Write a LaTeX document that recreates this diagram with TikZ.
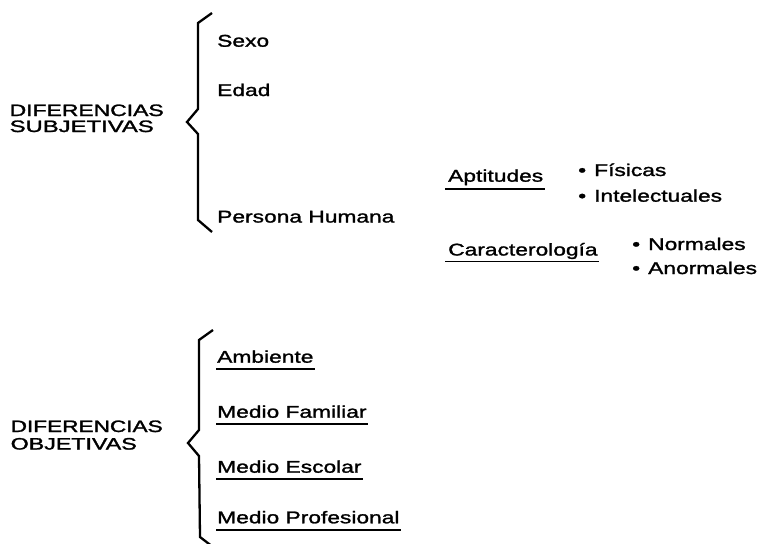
\documentclass[tikz,border=0pt]{standalone}
\usepackage{fontspec}
\usepackage{graphicx}
\setmainfont[FakeStretch=1.34,FakeBold=1.5]{Liberation Sans}
\newfontfamily\headfont[FakeBold=1.5]{Liberation Sans}
\newcommand{\hd}[2]{\resizebox{#1pt}{\height}{#2}}
\begin{document}
\begin{tikzpicture}[x=1pt,y=-1pt,
  item/.style={anchor=base west,inner sep=0pt,font=\fontsize{17}{20}\selectfont},
  head/.style={anchor=base west,inner sep=0pt,font=\headfont\fontsize{16.5}{16}\selectfont},
  ul/.style={line width=1.9pt},
  brace/.style={line width=2.3pt,line join=miter}]
\useasboundingbox (0,0) rectangle (759,543);
% subjective block
\node[head] (d1) at (9.5,116) {\hd{154}{DIFERENCIAS}};
\node[head] (s1) at (9.5,132) {\hd{144}{SUBJETIVAS}};
\draw[brace] (212,13) -- (198,23) -- (198,109) -- (187,122) -- (198,134) -- (198,220) -- (212,232);
\node[item] (sexo) at (217,46.7) {Sexo};
\node[item] (edad) at (217,96) {Edad};
\node[item] (pers) at (217,222.5) {Persona Humana};
\node[item] (apt) at (448,181.7) {Aptitudes};
\draw[ul] ([xshift=-3pt,yshift=-7.5pt]apt.base west) -- ([xshift=2pt,yshift=-7.5pt]apt.base east);
\node[item] (fis) at (578,176) {•\kern8pt Físicas};
\node[item] (int) at (578,201.7) {•\kern8pt Intelectuales};
\node[item] (car) at (448,255.5) {Caracterología};
\draw[ul] ([xshift=-3pt,yshift=-6pt]car.base west) -- ([xshift=1pt,yshift=-6pt]car.base east);
\node[item] (nor) at (632,250) {•\kern8pt Normales};
\node[item] (anor) at (632,274) {•\kern8pt Anormales};
% objective block
\node[head] (d2) at (10.5,432) {\hd{152}{DIFERENCIAS}};
\node[head] (o2) at (10.5,449.5) {\hd{126}{OBJETIVAS}};
\draw[brace] (213,330) -- (199,340) -- (199,430) -- (188,443) -- (199,456) -- (200,537) -- (213,547);
\node[item] (amb) at (217,362.7) {Ambiente};
\node[item] (fam) at (217,417.7) {Medio Familiar};
\node[item] (esc) at (217,472.7) {Medio Escolar};
\node[item] (prof) at (217,523.3) {Medio Profesional};
\foreach \n in {amb,fam,esc,prof}
  \draw[ul] ([xshift=-1pt,yshift=-6.5pt]\n.base west) -- ([xshift=1pt,yshift=-6.5pt]\n.base east);
\end{tikzpicture}
\end{document}
